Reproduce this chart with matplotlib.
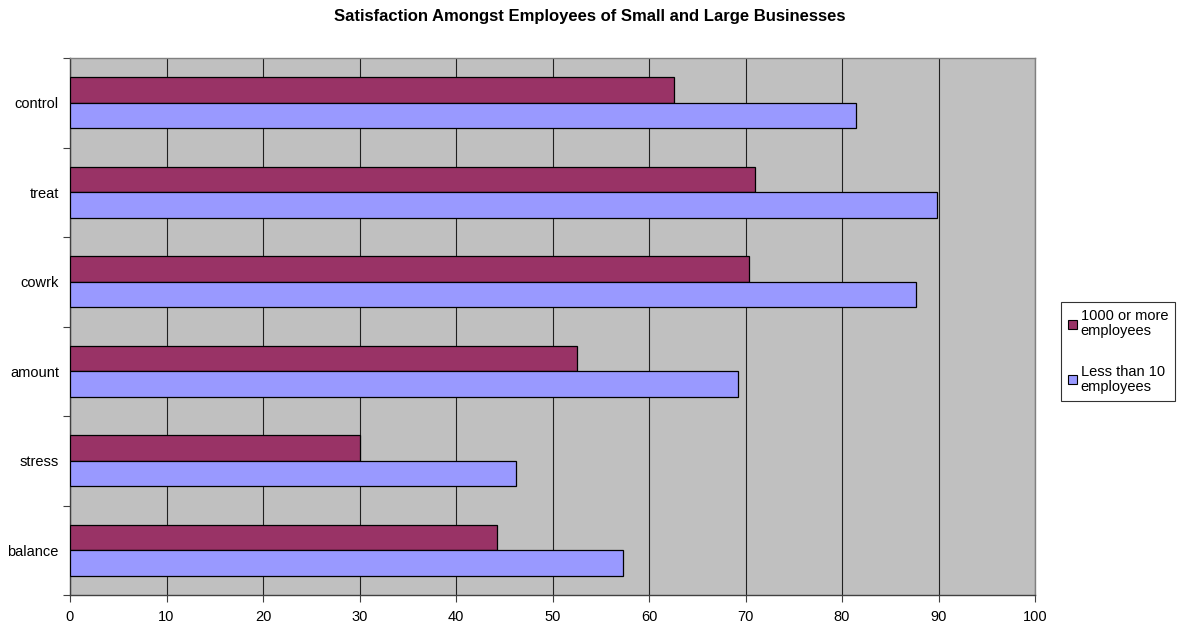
import matplotlib
matplotlib.use('Agg')
from matplotlib import pyplot as plt
from matplotlib.patches import Patch
import numpy as np

plt.rcParams['font.family'] = ['Liberation Sans', 'DejaVu Sans']

# categories listed top to bottom
categories = ['control', 'treat', 'cowrk', 'amount', 'stress', 'balance']
large = [62.6, 71.0, 70.4, 52.5, 30.0, 44.3]   # 1000 or more employees
small = [81.4, 89.8, 87.7, 69.2, 46.2, 57.3]   # Less than 10 employees
xticks = list(range(0, 101, 10))

purple = '#993366'
blue = '#9999FF'

fig = plt.figure(figsize=(11.8, 6.25), dpi=100)
ax = fig.add_axes([70 / 1180, 1 - 595 / 625, (1035 - 70) / 1180, (595 - 58) / 625])
ax.set_facecolor('#C0C0C0')

y = np.arange(len(categories))
h = 0.283
ax.barh(y - h / 2, large, height=h, color=purple, edgecolor='black', linewidth=0.9, zorder=3)
ax.barh(y + h / 2, small, height=h, color=blue, edgecolor='black', linewidth=0.9, zorder=3)

ax.set_xlim(0, 100)
ax.set_ylim(len(categories) - 0.5, -0.5)
ax.set_xticks(xticks)
ax.set_yticks(y)
ax.set_yticklabels(categories)
ax.set_yticks(np.arange(-0.5, len(categories), 1), minor=True)
ax.tick_params(axis='y', which='major', length=0, pad=8, labelsize=10.5)
ax.tick_params(axis='y', which='minor', length=5, width=0.8, color='#404040')
ax.tick_params(axis='x', length=5, width=0.8, color='#404040', labelsize=10.5, pad=6)

ax.grid(axis='x', color='#202020', linewidth=0.8, zorder=1)
for side in ['top', 'right']:
    ax.spines[side].set_color('#808080')
    ax.spines[side].set_linewidth(1.0)
for side in ['left', 'bottom']:
    ax.spines[side].set_color('#404040')
    ax.spines[side].set_linewidth(1.0)

fig.suptitle('Satisfaction Amongst Employees of Small and Large Businesses',
             fontsize=12, fontweight='bold', y=1 - 17 / 625, va='center')

handles = [Patch(facecolor=purple, edgecolor='black', linewidth=0.8),
           Patch(facecolor=blue, edgecolor='black', linewidth=0.8)]
leg = fig.legend(handles, ['1000 or more\nemployees', 'Less than 10\nemployees'],
                 loc='upper left', bbox_to_anchor=(1061 / 1180, 1 - 302 / 625),
                 fontsize=10.5, frameon=True, fancybox=False, edgecolor='black',
                 handlelength=0.6, handleheight=0.6, handletextpad=0.25,
                 labelspacing=1.8, borderpad=0.5, borderaxespad=0)
leg.get_frame().set_linewidth(0.8)
for t in leg.get_texts():
    t.set_linespacing(1.1)

fig.savefig('out.png', dpi=100)
